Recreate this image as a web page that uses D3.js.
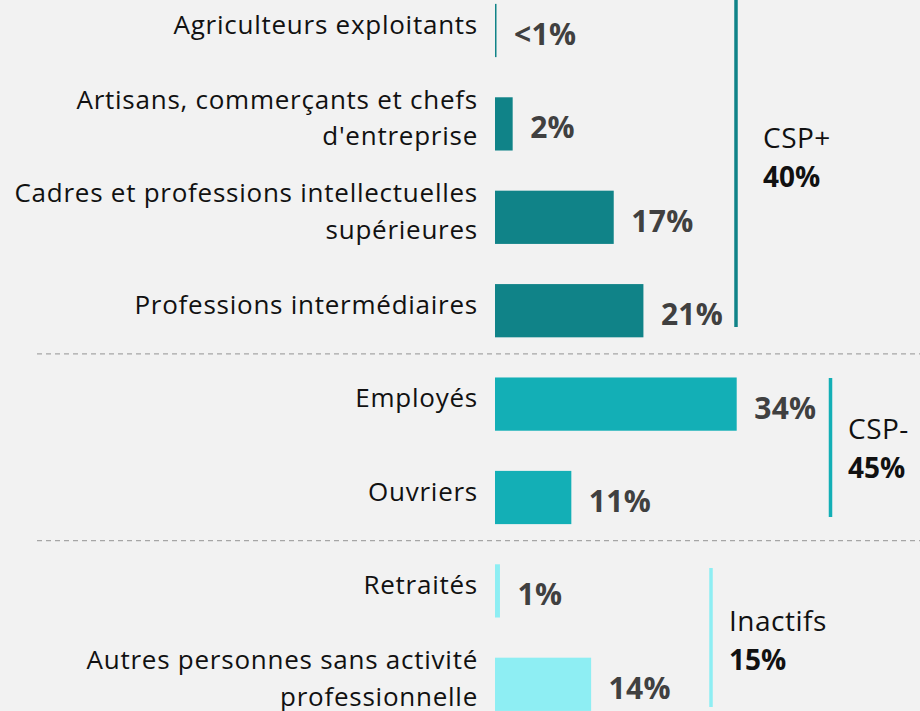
<!DOCTYPE html>
<html>
<head>
<meta charset="utf-8">
<script src="https://cdn.jsdelivr.net/npm/d3@7"></script>
<style>
  html, body { margin: 0; padding: 0; background: #f2f2f2; }
  svg { display: block; font-family: "Open Sans", "Noto Sans", sans-serif; }
</style>
</head>
<body>
<div id="chart"></div>
<script>
const WIDTH = 920,
    HEIGHT = 711;

// data
const categories = [
    ["Agriculteurs exploitants"],
    ["Artisans, commerçants et chefs", "d'entreprise"],
    ["Cadres et professions intellectuelles", "supérieures"],
    ["Professions intermédiaires"],
    ["Employés"],
    ["Ouvriers"],
    ["Retraités"],
    ["Autres personnes sans activité", "professionnelle"]
];
const values = [0.2, 2.5, 16.8, 21.0, 34.2, 10.8, 0.7, 13.6];
const valueLabels = ["<1%", "2%", "17%", "21%", "34%", "11%", "1%", "14%"];
const groupOf = [0, 0, 0, 0, 1, 1, 2, 2];
const groupNames = ["CSP+", "CSP-", "Inactifs"];
const groupTotals = ["40%", "45%", "15%"];
const groupColors = ["#108388", "#13afb6", "#8eeef3"];

// layout for the group brackets
const groupLayout = [
    { lineX: 736, labelX: 763, labelY: 148, top: -10, bottom: 327 },
    { lineX: 830.5, labelX: 848, labelY: 439, top: 378, bottom: 517 },
    { lineX: 711, labelX: 729, labelY: 631, top: 568, bottom: 707 }
];

const svg = d3.select("#chart")
    .append("svg")
    .attr("width", WIDTH)
    .attr("height", HEIGHT);

const idx = d3.range(values.length);

const y = d3.scaleBand()
    .domain(idx)
    .range([-16.2, 731])
    .paddingInner(0.43)
    .paddingOuter(0.215);

const x = d3.scaleLinear()
    .domain([0, d3.max(values)])
    .range([495, 736.7]);

// dashed separators between groups
const seps = idx.filter(i => i > 0 && groupOf[i] !== groupOf[i - 1]);
svg.selectAll(".sep")
    .data(seps)
    .join("line")
    .attr("x1", 37)
    .attr("x2", WIDTH)
    .attr("y1", i => (y(i - 1) + y.bandwidth() + y(i)) / 2 - 3.5)
    .attr("y2", i => (y(i - 1) + y.bandwidth() + y(i)) / 2 - 3.5)
    .attr("stroke", "#a6a6a6")
    .attr("stroke-width", 1.2)
    .attr("stroke-dasharray", "5,4");

// bars
svg.selectAll(".bar")
    .data(idx)
    .join("rect")
    .attr("x", x(0))
    .attr("y", i => y(i))
    .attr("width", i => Math.max(1.5, x(values[i]) - x(0)))
    .attr("height", y.bandwidth())
    .attr("fill", i => groupColors[groupOf[i]]);

// category labels
const LH = 36.5;
const catText = svg.selectAll(".cat")
    .data(idx)
    .join("text")
    .attr("text-anchor", "end")
    .attr("font-size", "26px")
    .attr("letter-spacing", "0.75px")
    .attr("fill", "#111");
catText.each(function (i) {
    const lines = categories[i];
    const cy = y(i) + y.bandwidth() / 2 + 3 - (lines.length - 1) * LH / 2;
    d3.select(this).selectAll("tspan")
        .data(lines)
        .join("tspan")
        .attr("x", 478)
        .attr("y", (d, k) => cy + k * LH)
        .text(d => d);
});

// value labels
svg.selectAll(".val")
    .data(idx)
    .join("text")
    .attr("x", i => Math.max(x(values[i]), x(0) + 1.5) + 17.5)
    .attr("y", i => y(i) + y.bandwidth() / 2 + 14.5)
    .attr("font-size", "30px")
    .attr("font-weight", "bold")
    .attr("letter-spacing", "0.3px")
    .attr("fill", "#404040")
    .text(i => valueLabels[i]);

// group brackets
groupNames.forEach((name, g) => {
    const L = groupLayout[g];
    svg.append("line")
        .attr("x1", L.lineX)
        .attr("x2", L.lineX)
        .attr("y1", L.top)
        .attr("y2", L.bottom)
        .attr("stroke", groupColors[g])
        .attr("stroke-width", 3.5);
    svg.append("text")
        .attr("x", L.labelX)
        .attr("y", L.labelY)
        .attr("font-size", "28px")
        .attr("letter-spacing", "0.5px")
        .attr("fill", "#111")
        .text(name);
    svg.append("text")
        .attr("x", L.labelX)
        .attr("y", L.labelY + 38.5)
        .attr("font-size", "28px")
        .attr("font-weight", "bold")
        .attr("fill", "#111")
        .text(groupTotals[g]);
});
</script>
</body>
</html>
